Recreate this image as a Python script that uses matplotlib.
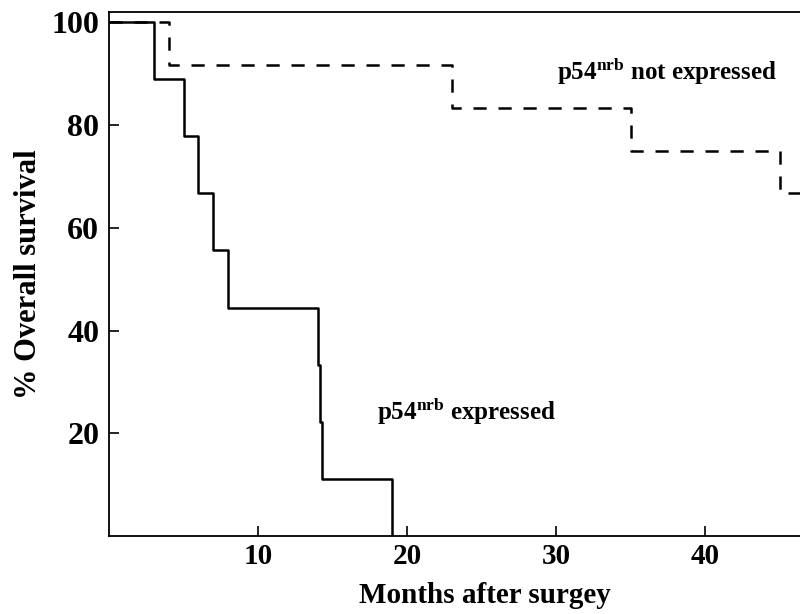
import matplotlib
matplotlib.use("Agg")
import matplotlib.pyplot as plt

# Kaplan-Meier steps (months, % survival)
expr_months = [0, 3, 5, 6, 7, 8, 14.0, 14.15, 14.3, 19]
expr_surv = [100, 88.9, 77.8, 66.7, 55.6, 44.4, 33.3, 22.2, 11.1, 0]

notexpr_months = [0, 4, 23, 35, 45, 50]
notexpr_surv = [100, 91.7, 83.3, 75.0, 66.7, 66.7]

x_ticks = [10, 20, 30, 40]
y_ticks = [20, 40, 60, 80, 100]

plt.rcParams['font.family'] = ['Liberation Serif', 'DejaVu Serif']
plt.rcParams['font.weight'] = 'bold'
plt.rcParams['mathtext.fontset'] = 'custom'
plt.rcParams['mathtext.rm'] = 'Liberation Serif:bold'
plt.rcParams['mathtext.it'] = 'Liberation Serif:bold'
plt.rcParams['mathtext.bf'] = 'Liberation Serif:bold'
plt.rcParams['lines.scale_dashes'] = False

fig = plt.figure(figsize=(8, 6.14), dpi=100)
# the original plot runs past the right edge of the picture (cropped)
ax = fig.add_axes([0.13625, 0.127, 0.93125, 0.8535])

ax.step(expr_months, expr_surv, where='post', color='black', lw=1.8)
ax.step(notexpr_months, notexpr_surv, where='post', color='black', lw=1.8,
        linestyle=(0, (9.5, 8.5)))

ax.set_xlim(0, 50)
ax.set_ylim(0, 102)
ax.set_xticks(x_ticks)
ax.set_yticks(y_ticks)
ax.tick_params(direction='in', length=7, width=1.2)
ax.tick_params(axis='x', labelsize=21, pad=5)
ax.tick_params(axis='y', labelsize=23, pad=7)
for s in ['left', 'bottom', 'top']:
    ax.spines[s].set_linewidth(1.3)
ax.spines['right'].set_visible(False)

ax.set_xlabel('Months after surgey', fontsize=21, fontweight='bold')
ax.set_ylabel('% Overall survival', fontsize=22, fontweight='bold')
ax.xaxis.set_label_coords(0.505, -0.088)
ax.yaxis.set_label_coords(-0.088, 0.5)

ax.text(30.1, 90.5, r'$\mathrm{p54^{nrb}}$ not expressed', fontsize=18,
        fontweight='bold', va='center', ha='left')
ax.text(18.0, 24.3, r'$\mathrm{p54^{nrb}}$ expressed', fontsize=18,
        fontweight='bold', va='center', ha='left')

fig.savefig('out.png', dpi=100)
